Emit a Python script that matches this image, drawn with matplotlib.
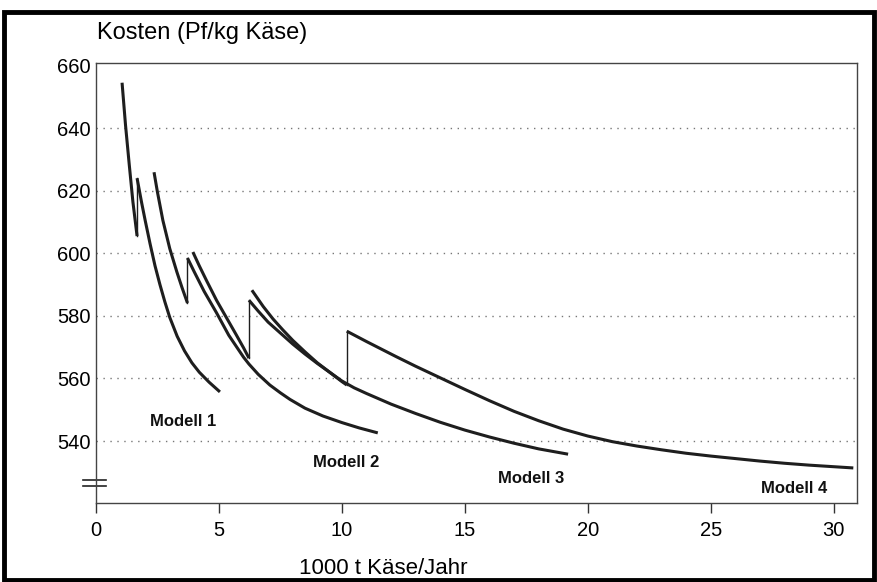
import numpy as np
import matplotlib.pyplot as plt
from matplotlib.patches import Rectangle

plt.rcParams['font.family'] = ['Liberation Sans', 'DejaVu Sans']

# Kostenkurven (Pf/kg Kaese) ueber Verarbeitungsmenge (1000 t Kaese/Jahr)
# gleiche x-Werte hintereinander = Sprung (Kapazitaetserweiterung)
model1_x = [1.06, 1.20, 1.35, 1.50, 1.67, 1.67, 1.86, 2.00, 2.20, 2.40, 2.60, 2.80,
            3.00, 3.30, 3.60, 3.90, 4.20, 4.60, 5.04]
model1_y = [654.5, 641.0, 628.5, 616.5, 605.5, 624.0, 616.0, 610.5, 603.0, 596.0, 590.0, 584.5,
            579.5, 573.5, 568.8, 565.0, 562.0, 558.8, 555.7]

model2_x = [2.36, 2.50, 2.72, 3.00, 3.29, 3.50, 3.72, 3.72, 4.00, 4.40, 4.90, 5.40,
            6.00, 6.22, 6.60, 7.07, 7.50, 7.89, 8.50, 9.23, 10.00, 10.70, 11.46]
model2_y = [625.9, 619.5, 610.5, 601.5, 594.0, 589.0, 584.1, 598.5, 594.0, 587.8, 581.0, 573.8,
            566.8, 564.6, 561.3, 557.9, 555.4, 553.3, 550.5, 548.0, 545.9, 544.2, 542.6]

model3_x = [3.94, 4.20, 4.50, 4.90, 5.30, 5.70, 6.00, 6.22, 6.22, 6.60, 7.00, 7.50, 8.00,
            8.50, 9.00, 9.50, 10.00, 10.50, 11.00, 12.00, 13.00, 14.00, 15.00, 16.00,
            17.00, 18.00, 19.20]
model3_y = [600.4, 596.0, 591.2, 585.0, 579.5, 574.0, 569.8, 566.5, 585.0, 581.5, 578.0, 574.5, 571.0,
            567.8, 564.8, 562.0, 559.2, 557.0, 555.2, 551.8, 548.8, 546.0, 543.5, 541.3,
            539.3, 537.5, 535.8]

model4_x = [6.34, 6.80, 7.20, 7.60, 8.00, 8.50, 9.00, 9.50, 10.00, 10.20, 10.20, 11.00,
            12.20, 13.00, 14.27, 15.00, 16.00, 17.00, 18.00, 19.00, 20.00, 21.00, 22.00,
            23.00, 24.00, 25.00, 26.00, 27.00, 28.00, 29.00, 30.80]
model4_y = [588.2, 583.0, 579.0, 575.5, 572.2, 568.5, 565.0, 562.0, 559.0, 557.9, 575.1, 571.8,
            567.0, 563.9, 559.2, 556.5, 552.9, 549.5, 546.5, 543.8, 541.6, 539.8, 538.4,
            537.2, 536.1, 535.2, 534.4, 533.6, 532.9, 532.3, 531.4]

labels = ['Modell 1', 'Modell 2', 'Modell 3', 'Modell 4']
label_x = [3.54, 10.16, 17.70, 28.40]
label_y = [546.1, 533.0, 527.9, 524.7]

x_ticks = [0, 5, 10, 15, 20, 25, 30]
y_ticks = [540, 560, 580, 600, 620, 640, 660]
grid_y = [540, 560, 580, 600, 620, 640]

line_col = '#1e1e1e'


def plot_model(ax, xs, ys):
    # Kurvenstuecke dick, Spruenge duenn
    start = 0
    for i in range(1, len(xs)):
        if xs[i] == xs[i - 1]:
            ax.plot(xs[start:i], ys[start:i], color=line_col, lw=2.2,
                    solid_capstyle='butt', solid_joinstyle='round')
            ax.plot(xs[i - 1:i + 1], ys[i - 1:i + 1], color=line_col, lw=1.0)
            start = i
    ax.plot(xs[start:], ys[start:], color=line_col, lw=2.2,
            solid_capstyle='butt', solid_joinstyle='round')


fig = plt.figure(figsize=(8.78, 5.82), dpi=100)
ax = fig.add_axes([96 / 878, 1 - 503 / 582, (857 - 96) / 878, (503 - 63) / 582])

for yy in grid_y:
    ax.axhline(yy, color='#777777', lw=1.0, ls=(0, (1, 4)), zorder=0)

for xs, ys in [(model1_x, model1_y), (model2_x, model2_y),
               (model3_x, model3_y), (model4_x, model4_y)]:
    plot_model(ax, xs, ys)

for lab, lx, ly in zip(labels, label_x, label_y):
    ax.text(lx, ly, lab, ha='center', va='center', fontsize=12,
            fontweight='bold', color='#111111')

ax.set_xlim(0, 30.95)
ax.set_ylim(520.2, 660.8)
ax.set_xticks(x_ticks)
ax.set_yticks(y_ticks)
ax.tick_params(axis='x', direction='out', length=7, width=1, pad=6,
               labelsize=14.5, color='#333333')
ax.tick_params(axis='y', length=0, pad=4, labelsize=14.5)
for sp in ax.spines.values():
    sp.set_color('#444444')
    sp.set_linewidth(1.0)

# Achsenbruch
trans = ax.get_yaxis_transform()
for yb in [527.7, 525.5]:
    ax.plot([-0.017, 0.013], [yb, yb], color='#222222', lw=1.2,
            transform=trans, clip_on=False)

fig.text(97 / 878, 1 - 33 / 582, 'Kosten (Pf/kg Käse)', fontsize=17,
         ha='left', va='center')
fig.text(383 / 878, 1 - 569 / 582, '1000 t Käse/Jahr', fontsize=16,
         ha='center', va='center')

# Rahmen um das ganze Bild
fig.patches.append(Rectangle((4 / 878, 0.004), 870 / 878, 1 - 12 / 582 - 0.004,
                             transform=fig.transFigure, fill=False,
                             edgecolor='black', lw=3.5))

fig.savefig('out.png', dpi=100)
